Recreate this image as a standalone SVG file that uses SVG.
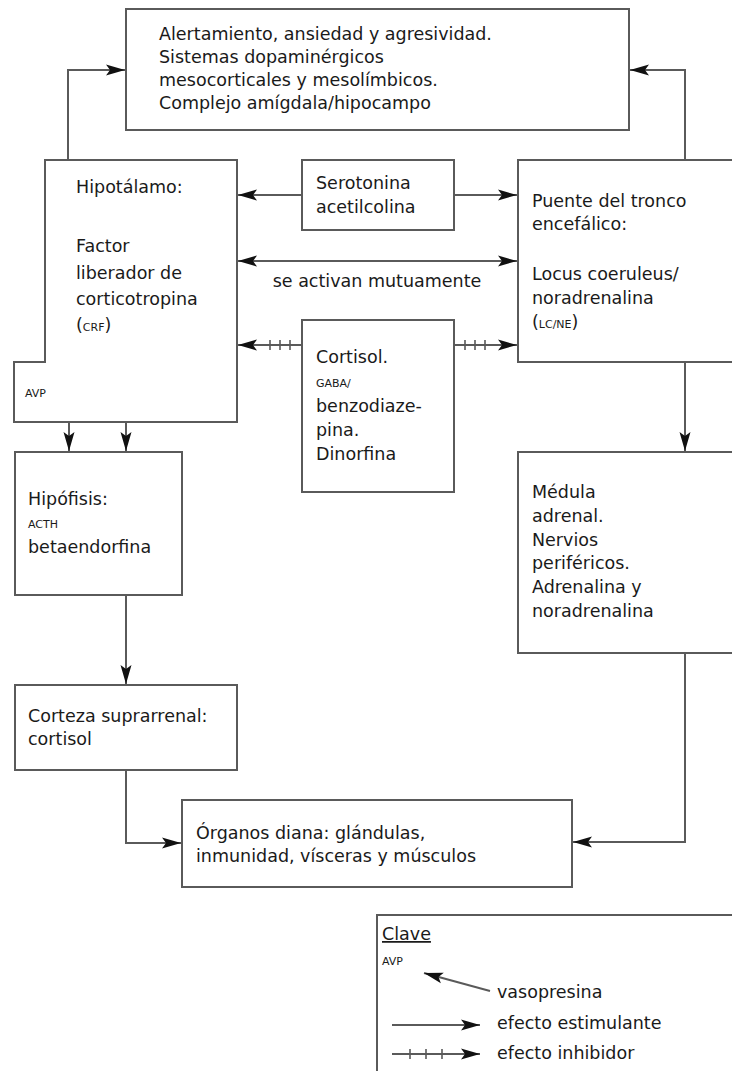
<svg xmlns="http://www.w3.org/2000/svg" width="732" height="1071" viewBox="0 0 732 1071">
<style>
.box{fill:#fff;stroke:#5a5a5a;stroke-width:2}
.ln{fill:none;stroke:#5a5a5a;stroke-width:2}
.t{font-family:"DejaVu Sans","Open Sans",sans-serif;font-size:17.5px;fill:#1a1a1a}
.sc{font-size:11px}
.tk{stroke:#5a5a5a;stroke-width:1.6}
</style>
<defs>
<marker id="ah" viewBox="0 0 19 12" refX="19" refY="6" markerWidth="19" markerHeight="12" markerUnits="userSpaceOnUse" orient="auto">
<path d="M0,0.5 L19,6 L0,11.5 L4,6 Z" fill="#111"/>
</marker>
</defs>
<rect width="732" height="1071" fill="#fff"/>

<g id="connectors">
<path class="ln" d="M68,160 V70 H125" marker-end="url(#ah)"/>
<path class="ln" d="M685,160 V70 H630" marker-end="url(#ah)"/>
<path class="ln" d="M302,195 H238" marker-end="url(#ah)"/>
<path class="ln" d="M454,195 H517" marker-end="url(#ah)"/>
<path class="ln" d="M377,261 H238" marker-end="url(#ah)"/>
<path class="ln" d="M377,261 H517" marker-end="url(#ah)"/>
<path class="ln" d="M302,345 H238" marker-end="url(#ah)"/>
<path class="tk" d="M270,340 V350 M280,340 V350 M290,340 V350"/>
<path class="ln" d="M454,345 H517" marker-end="url(#ah)"/>
<path class="tk" d="M465,340 V350 M475,340 V350 M485,340 V350"/>
<path class="ln" d="M685,362 V451" marker-end="url(#ah)"/>
<path class="ln" d="M69,422 V451" marker-end="url(#ah)"/>
<path class="ln" d="M126,422 V451" marker-end="url(#ah)"/>
<path class="ln" d="M126,595 V684" marker-end="url(#ah)"/>
<path class="ln" d="M126,770 V843 H181" marker-end="url(#ah)"/>
<path class="ln" d="M685,653 V842 H573" marker-end="url(#ah)"/>
</g>

<g id="top">
<rect class="box" x="126" y="9" width="503" height="121"/>
<text class="t" x="159" y="40">Alertamiento, ansiedad y agresividad.</text>
<text class="t" x="159" y="63">Sistemas dopaminérgicos</text>
<text class="t" x="159" y="86">mesocorticales y mesolímbicos.</text>
<text class="t" x="159" y="109">Complejo amígdala/hipocampo</text>
</g>

<g id="hipotalamo">
<path class="box" d="M45,160 H237 V422 H14 V362 H45 Z"/>
<text class="t" x="76" y="193">Hipotálamo:</text>
<text class="t" x="76" y="252">Factor</text>
<text class="t" x="76" y="279">liberador de</text>
<text class="t" x="76" y="305">corticotropina</text>
<text class="t" x="76" y="331">(<tspan class="sc">CRF</tspan>)</text>
<text class="t sc" x="25" y="397">AVP</text>
</g>

<g id="serotonina">
<rect class="box" x="302" y="160" width="152" height="70"/>
<text class="t" x="316" y="189">Serotonina</text>
<text class="t" x="316" y="213">acetilcolina</text>
</g>

<text class="t" x="377" y="287" text-anchor="middle">se activan mutuamente</text>

<g id="cortisol">
<rect class="box" x="302" y="320" width="152" height="172"/>
<text class="t" x="316" y="363">Cortisol.</text>
<text class="t sc" x="316" y="387">GABA/</text>
<text class="t" x="316" y="412">benzodiaze-</text>
<text class="t" x="316" y="436">pina.</text>
<text class="t" x="316" y="460">Dinorfina</text>
</g>

<g id="puente">
<rect class="box" x="518" y="160" width="230" height="202"/>
<text class="t" x="532" y="207">Puente del tronco</text>
<text class="t" x="532" y="230">encefálico:</text>
<text class="t" x="532" y="280">Locus coeruleus/</text>
<text class="t" x="532" y="304">noradrenalina</text>
<text class="t" x="532" y="328">(<tspan class="sc">LC/NE</tspan>)</text>
</g>

<g id="medula">
<rect class="box" x="518" y="452" width="230" height="201"/>
<text class="t" x="532" y="498">Médula</text>
<text class="t" x="532" y="522">adrenal.</text>
<text class="t" x="532" y="546">Nervios</text>
<text class="t" x="532" y="569">periféricos.</text>
<text class="t" x="532" y="593">Adrenalina y</text>
<text class="t" x="532" y="617">noradrenalina</text>
</g>

<g id="hipofisis">
<rect class="box" x="15" y="452" width="167" height="143"/>
<text class="t" x="28" y="505">Hipófisis:</text>
<text class="t sc" x="28" y="528">ACTH</text>
<text class="t" x="28" y="553">betaendorfina</text>
</g>

<g id="corteza">
<rect class="box" x="15" y="685" width="222" height="85"/>
<text class="t" x="28" y="722">Corteza suprarrenal:</text>
<text class="t" x="28" y="745">cortisol</text>
</g>

<g id="organos">
<rect class="box" x="182" y="800" width="390" height="87"/>
<text class="t" x="196" y="839">Órganos diana: glándulas,</text>
<text class="t" x="196" y="862">inmunidad, vísceras y músculos</text>
</g>

<g id="clave">
<path class="box" d="M377,1075 V915 H740"/>
<text class="t" x="382" y="940" text-decoration="underline">Clave</text>
<text class="t sc" x="382" y="965">AVP</text>
<path class="ln" d="M490,991 L424,973" marker-end="url(#ah)"/>
<text class="t" x="497" y="998">vasopresina</text>
<path class="ln" d="M392,1025 H480" marker-end="url(#ah)"/>
<text class="t" x="497" y="1029">efecto estimulante</text>
<path class="ln" d="M392,1054 H480" marker-end="url(#ah)"/>
<path class="tk" d="M410,1049 V1059 M426,1049 V1059 M442,1049 V1059"/>
<text class="t" x="497" y="1059">efecto inhibidor</text>
</g>
</svg>
